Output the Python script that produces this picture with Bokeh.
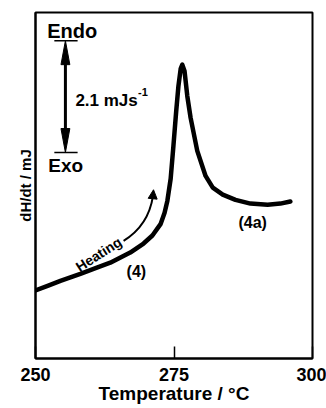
from bokeh.plotting import figure
from bokeh.models import Range1d, FixedTicker, Label, Arrow, NormalHead
from bokeh.embed import file_html
from bokeh.resources import INLINE

# ---- data ----
temperature = [250.0, 252.3, 254.5, 258.1, 261.2, 263.5, 267.1, 269.5, 271.1, 272.6,
               273.3, 273.8, 274.4, 274.9, 275.4, 275.8, 276.2, 276.5, 276.9, 277.4,
               278.0, 279.2, 280.7, 282.0, 283.8, 286.1, 288.8, 291.9, 294.2, 296.0]
heat_flow = [1.28, 1.37, 1.46, 1.59, 1.71, 1.80, 1.99, 2.16, 2.31, 2.53,
             2.74, 2.96, 3.38, 4.00, 4.65, 5.12, 5.44, 5.52, 5.40, 4.93,
             4.52, 3.90, 3.43, 3.21, 3.08, 2.98, 2.91, 2.89, 2.91, 2.95]
x_ticks = [250, 275, 300]
x_title = "Temperature / °C"
y_title = "dH/dt / mJ"
scale_bar_value = 2.1   # mJ/s
scale_bar_x = 255.4
scale_bar_top = 5.97

FONT = "Liberation Sans"

p = figure(width=326, height=408, output_backend="svg", toolbar_location=None,
           x_range=Range1d(250, 300), y_range=Range1d(0, 6.5),
           min_border_left=35, min_border_right=14, min_border_top=12, min_border_bottom=50)
p.title.visible = False
p.grid.visible = False
p.background_fill_color = "white"
p.border_fill_color = "white"
p.outline_line_color = "black"
p.outline_line_width = 2

# x axis
xa = p.xaxis[0]
xa.ticker = FixedTicker(ticks=x_ticks)
xa.major_tick_in = 12
xa.major_tick_out = 0
xa.minor_tick_line_color = None
xa.axis_line_width = 2
xa.major_tick_line_width = 1.5
xa.major_label_text_font = FONT
xa.major_label_text_font_style = "bold"
xa.major_label_text_font_size = "18px"
xa.major_label_text_color = "black"
xa.major_label_standoff = 9
xa.axis_label = x_title
xa.axis_label_text_font = FONT
xa.axis_label_text_font_style = "bold"
xa.axis_label_text_font_size = "19px"
xa.axis_label_text_color = "black"
xa.axis_label_standoff = -1

# y axis
ya = p.yaxis[0]
ya.ticker = FixedTicker(ticks=[])
ya.major_tick_in = 0
ya.major_tick_out = 0
ya.minor_tick_line_color = None
ya.axis_line_width = 2
ya.axis_label = y_title
ya.axis_label_text_font = FONT
ya.axis_label_text_font_style = "bold"
ya.axis_label_text_font_size = "15px"
ya.axis_label_text_color = "black"
ya.axis_label_standoff = 2

# DSC curve
p.line(temperature, heat_flow, line_width=4.5, line_color="black",
       line_join="round", line_cap="round")

# scale bar
bot = scale_bar_top - scale_bar_value
p.segment(x0=[scale_bar_x - 2.0, scale_bar_x - 2.0], y0=[scale_bar_top, bot],
          x1=[scale_bar_x + 2.2, scale_bar_x + 2.2], y1=[scale_bar_top, bot],
          line_color="black", line_width=1.5)
p.segment(x0=[scale_bar_x], y0=[scale_bar_top - 0.3], x1=[scale_bar_x], y1=[bot + 0.3],
          line_color="black", line_width=3)
hw = 0.8
hl = 0.45
p.patches(xs=[[scale_bar_x, scale_bar_x - hw, scale_bar_x + hw],
              [scale_bar_x, scale_bar_x - hw, scale_bar_x + hw]],
          ys=[[scale_bar_top, scale_bar_top - hl, scale_bar_top - hl],
              [bot, bot + hl, bot + hl]],
          fill_color="black", line_color="black")

def lab(x, y, text, size, align="left", baseline="middle", angle=0):
    p.add_layout(Label(x=x, y=y, text=text, text_font=FONT, text_font_style="bold",
                       text_font_size=size, text_align=align, text_baseline=baseline,
                       text_color="black", angle=angle, angle_units="deg"))

lab(252.1, 6.15, "Endo", "20px")
lab(252.3, 3.62, "Exo", "19px")
lab(257.2, 4.85, "2.1 mJs", "17px")
lab(268.5, 5.0, "-1", "11px")
lab(261.4, 1.96, "Heating", "14px", align="center", angle=32.5)
lab(268.2, 1.63, "(4)", "16px", align="center")
lab(289.2, 2.55, "(4a)", "16px", align="center")

# heating arrow
p.quadratic(x0=[265.9], y0=[2.21], x1=[271.2], y1=[3.05], cx=[270.4], cy=[2.50],
            line_color="black", line_width=2)
p.add_layout(Arrow(end=NormalHead(size=9, fill_color="black", line_color="black"),
                   x_start=271.15, y_start=3.0, x_end=271.3, y_end=3.17,
                   line_width=2, line_color="black"))

open("out.html", "w").write(file_html(p, INLINE))
